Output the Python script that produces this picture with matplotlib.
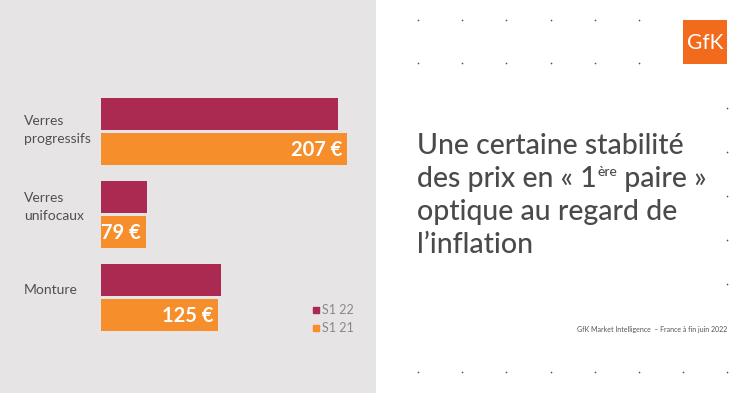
import numpy as np
import matplotlib
matplotlib.use("Agg")
import matplotlib.pyplot as plt
import matplotlib.transforms as mtransforms
from matplotlib.patches import Rectangle
from matplotlib.lines import Line2D

plt.rcParams['font.family'] = ['Lato', 'DejaVu Sans']

# data
categories = ["Verres\nprogressifs", "Verres\nunifocaux", "Monture"]
series = ["S1 22", "S1 21"]
s1_22 = [201, 80, 127]
s1_21 = [207, 79, 125]
value_labels = ["207 €", "79 €", "125 €"]
colors = ["#aa2a52", "#f68e2b"]

title_lines = ["Une certaine stabilité", None, "optique au regard de", "l’inflation"]
source = "GfK Market Intelligence  – France à fin juin 2022"

W, H = 750, 393
fig = plt.figure(figsize=(W / 100, H / 100), dpi=100)
fig.patch.set_facecolor("white")

# background layer in pixel units
bg = fig.add_axes([0, 0, 1, 1], zorder=0)
bg.set_xlim(0, W)
bg.set_ylim(H, 0)
bg.axis("off")
bg.add_patch(Rectangle((0, 0), 376, H, color="#e6e4e4", lw=0))

# decorative dots
dx = np.arange(418, 730, 44.2)
for yy in (20, 63):
    bg.scatter(dx[:6], [yy] * 6, s=1.5, color="#555555", lw=0)
bg.scatter(dx, [372] * len(dx), s=1.5, color="#555555", lw=0)
bg.scatter([dx[-1]] * 5, np.arange(108, 290, 44), s=1.5, color="#555555", lw=0)

# logo
bg.add_patch(Rectangle((683, 20), 44, 44, color="#f26a1b", lw=0))
bg.text(705, 43, "GfK", color="white", fontsize=15, ha="center", va="center")

# bars
ax = fig.add_axes([101 / W, 1 - 338.8 / H, 275 / W, 249 / H], zorder=2)
ax.patch.set_alpha(0)
y = np.arange(len(categories))
h = 0.385
off = 0.21
ax.barh(y - off, s1_22, height=h, color=colors[0], label=series[0])
ax.barh(y + off, s1_21, height=h, color=colors[1], label=series[1])
ax.set_xlim(50.6, 225.4)
ax.set_ylim(len(categories) - 0.5, -0.5)
ax.axis("off")

for i, v in enumerate(s1_21):
    ax.text(v, y[i] + off + 0.01, value_labels[i] + " ", ha="right", va="center",
            color="white", fontsize=14.5, fontweight="bold")

trans = mtransforms.blended_transform_factory(ax.transAxes, ax.transData)
for i, c in enumerate(categories):
    ax.text(-77 / 275, y[i] - (0.01 if i == 0 else 0.09), c, transform=trans,
            ha="left", va="center", fontsize=10, color="#505050", linespacing=1.6)

handles = [Line2D([], [], marker="s", ls="", color=colors[k], markersize=5) for k in range(2)]
fig.legend(handles, series, loc="upper left", bbox_to_anchor=(301 / W, 1 - 293 / H),
           frameon=False, handlelength=0.6, handletextpad=0.15, labelspacing=0.45,
           fontsize=9, labelcolor="#888888")

# title
tcol = "#4a4a4a"
tsize = 20.5
tw = "medium"
x0 = 417 / W
bases = [154, 187, 220, 253]
for i, line in enumerate(title_lines):
    if line is not None:
        fig.text(x0, 1 - bases[i] / H, line, fontsize=tsize, color=tcol,
                 va="baseline", fontweight=tw)

r = fig.canvas.get_renderer()
t1 = fig.text(x0, 1 - bases[1] / H, "des prix en « 1", fontsize=tsize, color=tcol,
              va="baseline", fontweight=tw)
bb = t1.get_window_extent(r)
t2 = fig.text(bb.x1 / W + 0.001, 1 - (bases[1] - 11) / H, "ère", fontsize=10, color=tcol,
              va="baseline", fontweight=tw)
bb = t2.get_window_extent(r)
fig.text(bb.x1 / W, 1 - bases[1] / H, " paire »", fontsize=tsize, color=tcol,
         va="baseline", fontweight=tw)

fig.text(727 / W, 1 - 332 / H, source, fontsize=5, color="#555555", ha="right", va="baseline")

fig.savefig("out.png", dpi=100)
